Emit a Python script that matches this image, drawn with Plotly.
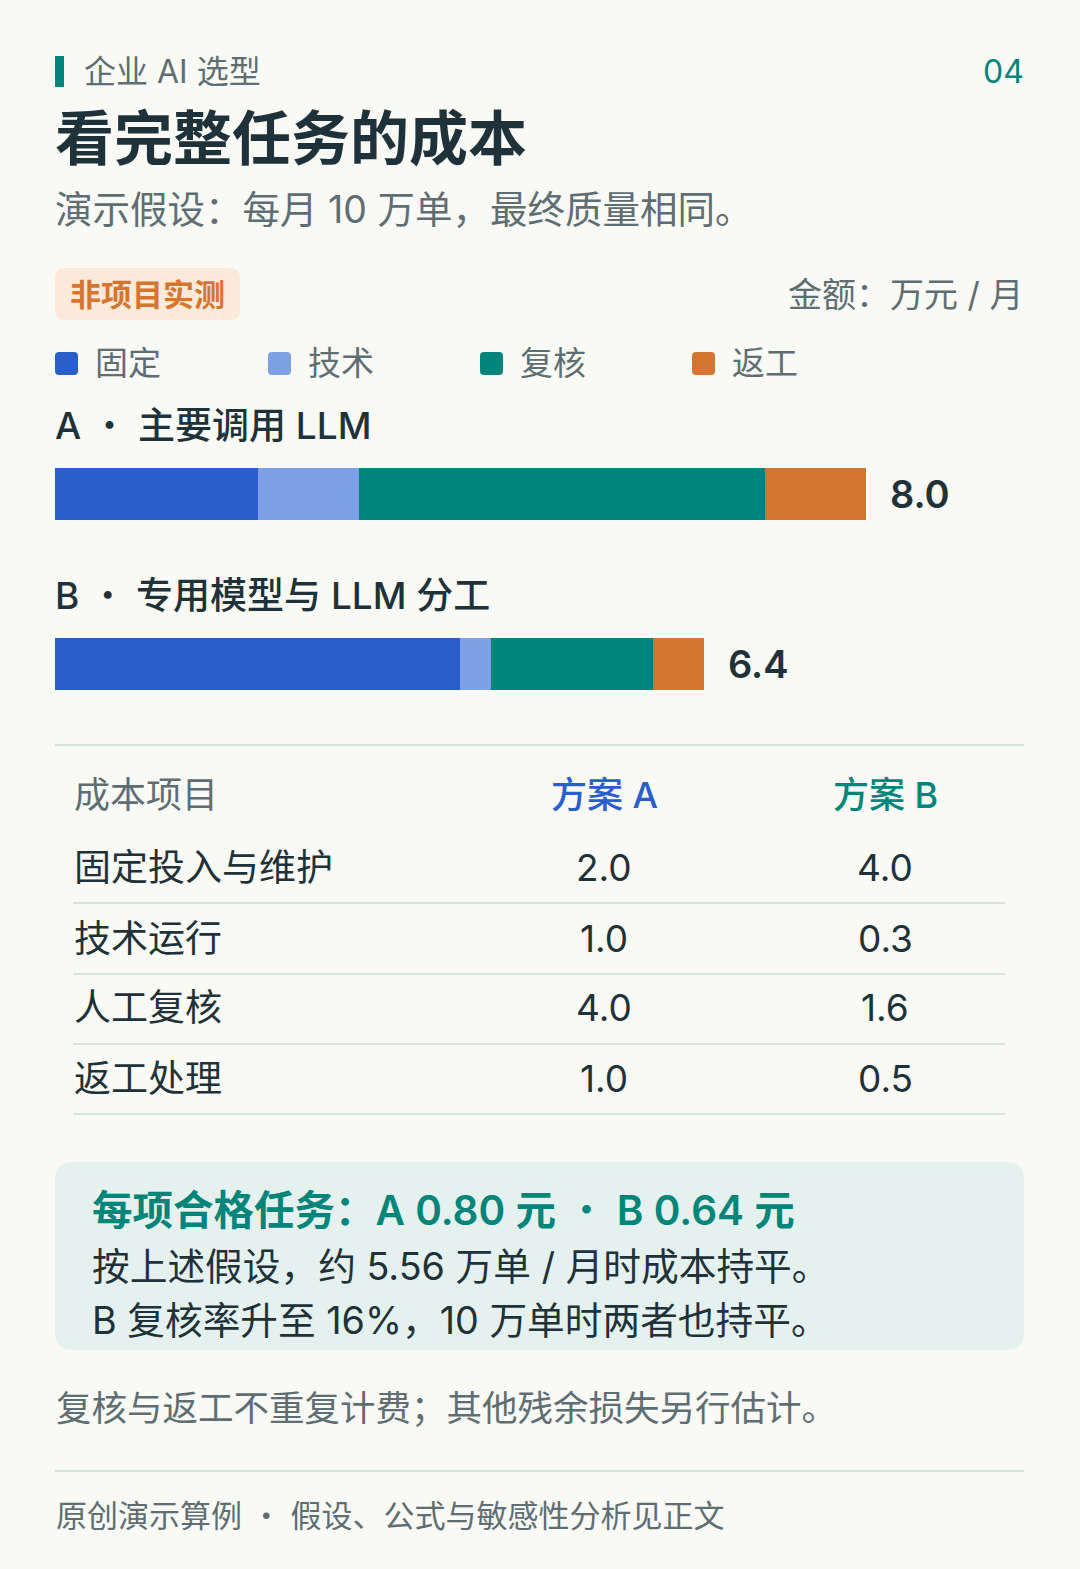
import plotly.graph_objects as go

# ---------------- data ----------------
schemes = ["A", "B"]
scheme_titles = ["A · 主要调用 LLM", "B · 专用模型与 LLM 分工"]
components = ["固定", "技术", "复核", "返工"]
comp_colors = ["#2a5ecb", "#7f9fe6", "#00857a", "#d47631"]
values_A = [2.0, 1.0, 4.0, 1.0]
values_B = [4.0, 0.3, 1.6, 0.5]

table_items = ["固定投入与维护", "技术运行", "人工复核", "返工处理"]
table_headers = ["成本项目", "方案 A", "方案 B"]

W, H = 1080, 1569
BG = "#f9f9f6"
DARK = "#1f3239"
GREY = "#5f6e72"
TEAL = "#00857a"
BLUE = "#2a5ecb"
ORANGE = "#d47631"
LINE = "#dae2e0"
FONT = "Inter, Noto Sans CJK SC"


def px(x):
    return x / W


def py(y):
    return 1 - y / H


def cjkdot(s):
    return s.replace("·", "<span style=\"font-family:'Noto Sans CJK SC';font-weight:400\">·</span>")


def rrect(x0, y0, x1, y1, r):
    X0, X1 = px(x0), px(x1)
    Y0, Y1 = py(y0), py(y1)  # Y0 top (larger)
    rx, ry = r / W, r / H
    return (f"M {X0+rx},{Y0} L {X1-rx},{Y0} Q {X1},{Y0} {X1},{Y0-ry} "
            f"L {X1},{Y1+ry} Q {X1},{Y1} {X1-rx},{Y1} L {X0+rx},{Y1} "
            f"Q {X0},{Y1} {X0},{Y1+ry} L {X0},{Y0-ry} Q {X0},{Y0} {X0+rx},{Y0} Z")


fig = go.Figure()

series = list(zip(values_A, values_B))
for name, color, (va, vb) in zip(components, comp_colors, series):
    fig.add_trace(go.Bar(
        y=schemes, x=[va, vb], orientation="h", name=name,
        marker=dict(color=color, line=dict(width=0)),
        width=0.306, showlegend=False, hoverinfo="skip",
    ))

totals = [sum(values_A), sum(values_B)]

ann = []
shapes = []


def text(x, y, s, size, color, weight=400, anchor="left", yanchor="middle"):
    ann.append(dict(x=px(x), y=py(y), xref="paper", yref="paper", text=cjkdot(s),
                    showarrow=False, xanchor=anchor, yanchor=yanchor,
                    font=dict(family=FONT, size=size, color=color, weight=weight)))


# header
shapes.append(dict(type="rect", xref="paper", yref="paper", x0=px(55), x1=px(64),
                   y0=py(87), y1=py(56), fillcolor=TEAL, line=dict(width=0)))
text(82, 71, "企业 AI 选型", 32, GREY)
text(1026, 71, "04", 32, TEAL, anchor="right")
text(53, 139, "看完整任务的成本", 59, DARK, weight=700)
text(53, 209, "演示假设：每月 10 万单，最终质量相同。", 37.5, GREY)

# badge
shapes.append(dict(type="path", xref="paper", yref="paper", path=rrect(55, 268, 240, 320, 10),
                   fillcolor="#fbe9d9", line=dict(width=0)))
text(147, 294, "非项目实测", 31, ORANGE, weight=600, anchor="center")
text(1025, 294, "金额：万元 / 月", 34, GREY, anchor="right")

# legend
leg_x = [55, 268, 480, 692]
for lx, name, color in zip(leg_x, components, comp_colors):
    shapes.append(dict(type="path", xref="paper", yref="paper",
                       path=rrect(lx, 352, lx + 23, 375, 4), fillcolor=color, line=dict(width=0)))
    text(lx + 38, 363, name, 33, GREY)

# scheme titles
text(53, 423, scheme_titles[0], 37, DARK, weight=500)
text(53, 593, scheme_titles[1], 37, DARK, weight=500)

# totals labels
for s, t in zip(schemes, totals):
    ann.append(dict(x=t, y=s, xref="x", yref="y", text=f"{t:.1f}", showarrow=False,
                    xanchor="left", yanchor="middle", xshift=22,
                    font=dict(family=FONT, size=38, color=DARK, weight=600)))

# table
shapes.append(dict(type="line", xref="paper", yref="paper", x0=px(55), x1=px(1024),
                   y0=py(745), y1=py(745), line=dict(color=LINE, width=2)))
text(72, 795, table_headers[0], 36, GREY)
text(604, 795, table_headers[1], 36, BLUE, weight=500, anchor="center")
text(885, 795, table_headers[2], 36, TEAL, weight=500, anchor="center")
row_y = [867, 938, 1008, 1078]
for ry, item, va, vb in zip(row_y, table_items, values_A, values_B):
    text(72, ry, item, 37, DARK)
    text(604, ry, f"{va:.1f}", 37, DARK, anchor="center")
    text(885, ry, f"{vb:.1f}", 37, DARK, anchor="center")
    shapes.append(dict(type="line", xref="paper", yref="paper", x0=px(73), x1=px(1005),
                       y0=py(ry + 36), y1=py(ry + 36), line=dict(color=LINE, width=2)))

# callout
shapes.append(dict(type="path", xref="paper", yref="paper", path=rrect(55, 1162, 1024, 1350, 18),
                   fillcolor="#e5f1ee", line=dict(width=0)))
text(90, 1207, "每项合格任务：A 0.80 元 · B 0.64 元", 40.5, TEAL, weight=600)
text(90, 1266, "按上述假设，约 5.56 万单 / 月时成本持平。", 37.7, DARK)
text(90, 1320, "B 复核率升至 16%，10 万单时两者也持平。", 37.7, DARK)

text(54, 1408, "复核与返工不重复计费；其他残余损失另行估计。", 35.5, GREY)
shapes.append(dict(type="line", xref="paper", yref="paper", x0=px(55), x1=px(1024),
                   y0=py(1471), y1=py(1471), line=dict(color=LINE, width=2)))
text(54, 1513, "原创演示算例 · 假设、公式与敏感性分析见正文", 31, GREY)

fig.update_layout(
    width=W, height=H, margin=dict(l=0, r=0, t=0, b=0),
    paper_bgcolor=BG, plot_bgcolor="rgba(0,0,0,0)",
    barmode="stack", bargap=0,
    xaxis=dict(domain=[px(55), px(1025)], range=[0, 9.57], visible=False, fixedrange=True),
    yaxis=dict(domain=[py(749), py(409)], range=[1.5, -0.5], type="category",
               visible=False, fixedrange=True),
    annotations=ann, shapes=shapes, showlegend=False,
    font=dict(family=FONT),
)

fig.write_html(
    "out.html",
    config={"displayModeBar": False},
    post_script="document.body.style.margin='0';document.body.style.background='" + BG + "';",
)
